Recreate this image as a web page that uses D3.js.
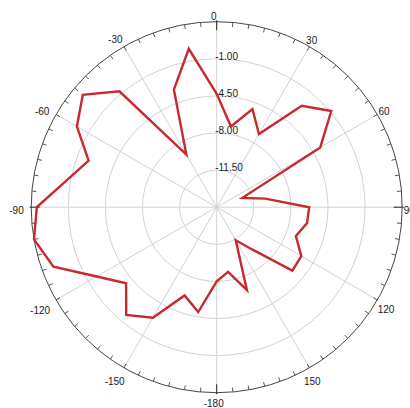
<!DOCTYPE html>
<html>
<head>
<meta charset="utf-8">
<script src="https://cdn.jsdelivr.net/npm/d3@7"></script>
<style>
  html, body { margin: 0; padding: 0; background: #fff; }
  svg { display: block; font-family: "Liberation Sans", Arial, sans-serif; }
</style>
</head>
<body>
<div id="chart"></div>
<script>
// Radiation pattern, gain (dB) sampled every 10 degrees
const angles = [-180, -170, -160, -150, -140, -130, -120, -110, -100, -90,
                -80, -70, -60, -50, -40, -30, -20, -10, 0, 10,
                20, 30, 40, 50, 60, 70, 80, 90, 100, 110,
                120, 130, 140, 150, 160, 170];
const gain = [-8.0, -4.96, -6.14, -2.95, -1.72, -3.84, -1.93, 1.39, 2.5, 1.97,
              -0.6, -2.14, 0.23, 1.49, -0.73, -9.27, -3.2, 0.17, -4.3, -7.27,
              -5.14, -7.03, -2.52, -0.89, -3.72, -12.42, -10.34, -6.27, -6.35, -7.05,
              -5.78, -5.69, -9.8, -11.4, -6.67, -8.81];

// Radial grid
const ringValues = [-11.5, -8.0, -4.5, -1.0, 2.5];
const ringLabels = ["-11.50", "-8.00", "-4.50", "-1.00"];
const radialDomain = [-15, 2.5];

// Angular axis
const angleLabelValues = [0, 30, 60, 90, 120, 150, -180, -150, -120, -90, -60, -30];
const spokeAngles = [0, 30, 60, 90, 120, 150, 180, 210, 240, 270, 300, 330];

const W = 410, H = 408;
const cx = 216.7, cy = 207.2, R = 185.5;

const svg = d3.select("#chart").append("svg")
  .attr("width", W).attr("height", H);

const g = svg.append("g").attr("transform", `translate(${cx},${cy})`);

const r = d3.scaleLinear().domain(radialDomain).range([0, R]);
const rad = d => d * Math.PI / 180;

// grid rings
g.selectAll("circle.ring")
  .data(ringValues.slice(0, -1))
  .join("circle")
  .attr("class", "ring")
  .attr("r", d => r(d))
  .attr("fill", "none")
  .attr("stroke", "#d2d2d2")
  .attr("stroke-width", 1);

// spokes
g.selectAll("line.spoke")
  .data(spokeAngles)
  .join("line")
  .attr("class", "spoke")
  .attr("x1", 0).attr("y1", 0)
  .attr("x2", d => R * Math.sin(rad(d)))
  .attr("y2", d => -R * Math.cos(rad(d)))
  .attr("stroke", "#d2d2d2")
  .attr("stroke-width", 1);

// outer circle
g.append("circle")
  .attr("r", R)
  .attr("fill", "none")
  .attr("stroke", "#444")
  .attr("stroke-width", 1);

// angular ticks every 5 degrees, longer on the main axes
const tickAngles = d3.range(-180, 180, 5);
g.selectAll("line.tick")
  .data(tickAngles)
  .join("line")
  .attr("class", "tick")
  .attr("x1", d => (d % 90 === 0 ? R + 1.5 : R) * Math.sin(rad(d)))
  .attr("y1", d => -(d % 90 === 0 ? R + 1.5 : R) * Math.cos(rad(d)))
  .attr("x2", d => (d % 90 === 0 ? R - 8.5 : R - 4.5) * Math.sin(rad(d)))
  .attr("y2", d => -(d % 90 === 0 ? R - 8.5 : R - 4.5) * Math.cos(rad(d)))
  .attr("stroke", d => d % 90 === 0 ? "#222" : "#555")
  .attr("stroke-width", 1);

// radial value labels along the 0-degree spoke
g.selectAll("text.rlabel")
  .data(ringLabels)
  .join("text")
  .attr("class", "rlabel")
  .attr("x", -1.5)
  .attr("y", (d, i) => -r(ringValues[i]) + 1)
  .attr("font-size", 10)
  .attr("fill", "#1a1a1a")
  .text(d => d);

// angular labels outside the circle
const capH = 7.2;
g.selectAll("text.alabel")
  .data(angleLabelValues)
  .join("text")
  .attr("class", "alabel")
  .attr("font-size", 10)
  .attr("fill", "#1a1a1a")
  .attr("text-anchor", "middle")
  .text(d => d)
  .each(function (d) {
    const w = this.getComputedTextLength();
    const s = Math.sin(rad(d)), c = Math.cos(rad(d));
    const ext = (w / 2) * Math.abs(s) + (capH / 2) * Math.abs(c);
    const rr = 190 + ext;
    d3.select(this)
      .attr("x", rr * s - 3)
      .attr("y", -rr * c + 3 + capH / 2);
  });

// pattern trace
const line = d3.lineRadial()
  .angle((d, i) => rad(angles[i]))
  .radius(d => r(d))
  .curve(d3.curveLinearClosed);

g.append("path")
  .datum(gain)
  .attr("d", line)
  .attr("fill", "none")
  .attr("stroke", "#c8282e")
  .attr("stroke-width", 2.4)
  .attr("stroke-linejoin", "miter");
</script>
</body>
</html>
